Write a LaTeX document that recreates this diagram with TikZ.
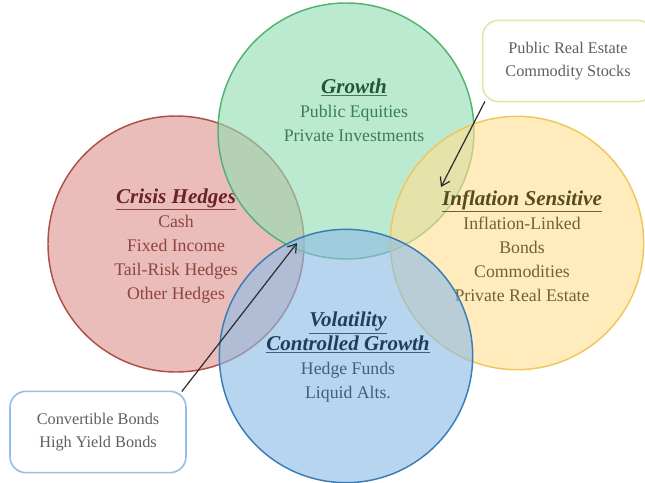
\documentclass[tikz,border=0pt]{standalone}
\usepackage{fontspec}
\setmainfont{Liberation Serif}
\usetikzlibrary{arrows.meta}
\definecolor{gfill}{RGB}{147,222,180}
\definecolor{rfill}{RGB}{224,150,144}
\definecolor{yfill}{RGB}{255,223,147}
\definecolor{bfill}{RGB}{142,188,230}
\definecolor{gline}{RGB}{80,180,110}
\definecolor{rline}{RGB}{175,80,70}
\definecolor{yline}{RGB}{240,200,90}
\definecolor{bline}{RGB}{55,125,185}
\definecolor{gtitle}{RGB}{35,85,55}
\definecolor{gtext}{RGB}{60,125,85}
\definecolor{rtitle}{RGB}{105,35,35}
\definecolor{rtext}{RGB}{140,70,62}
\definecolor{ytitle}{RGB}{85,75,30}
\definecolor{ytext}{RGB}{110,100,50}
\definecolor{btitle}{RGB}{35,60,90}
\definecolor{btext}{RGB}{70,92,120}
\definecolor{boxg}{RGB}{215,235,165}
\definecolor{boxb}{RGB}{150,190,230}
\definecolor{boxtext}{RGB}{95,95,95}
\definecolor{arrowc}{RGB}{45,45,45}
\tikzset{
  venn/.style={circle, minimum size=#1, inner sep=0pt, line width=1.1pt, fill opacity=0.62},
  grouptext/.style={align=center, font=\fontsize{13.3}{18}\selectfont, inner sep=0pt},
  callout/.style={draw, rounded corners=12pt, line width=1.2pt, fill=white, align=center,
     text=boxtext, font=\fontsize{12.2}{17}\selectfont},
  pointer/.style={draw=arrowc, line width=0.9pt, -{Straight Barb[length=6pt,width=8pt]}}
}
\newcommand{\vtitle}[1]{{\fontsize{15.8}{18}\selectfont\bfseries\itshape\underline{#1}}}
\begin{document}
\begin{tikzpicture}[x=0.75pt,y=-0.75pt]
\useasboundingbox (0,0) rectangle (645,482);
\clip (0,0) rectangle (645,482);
\fill[white] (0,0) rectangle (645,482);
% crisis
\node[venn=192pt, draw=rline, fill=rfill] (crisis) at (176,244) {};
\node[grouptext, text=rtext] (crisistxt) at (176,246) {\vtitle{\color{rtitle}Crisis Hedges}\\Cash\\Fixed Income\\Tail-Risk Hedges\\Other Hedges};
% growth
\node[venn=192pt, draw=gline, fill=gfill] (growth) at (346,131) {};
\node[grouptext, text=gtext] (growthtxt) at (354,110) {\vtitle{\color{gtitle}Growth}\\Public Equities\\Private Investments};
% inflation
\node[venn=190pt, draw=yline, fill=yfill] (infl) at (517,243) {};
\node[grouptext, text=ytext] (infltxt) at (522,246) {\vtitle{\color{ytitle}Inflation Sensitive}\\Inflation-Linked\\Bonds\\Commodities\\Private Real Estate};
% volatility
\node[venn=190pt, draw=bline, fill=bfill] (vol) at (346,356) {};
\node[grouptext, text=btext] (voltxt) at (348,357) {\vtitle{\color{btitle}Volatility}\\\vtitle{\color{btitle}Controlled Growth}\\Hedge Funds\\Liquid Alts.};
% callouts
\node[callout, draw=boxg, minimum width=128pt, minimum height=61pt] (pbox) at (568,61) {Public Real Estate\\Commodity Stocks};
\node[callout, draw=boxb, minimum width=132pt, minimum height=61pt] (cbox) at (98,432) {Convertible Bonds\\High Yield Bonds};
\coordinate (tipA) at (441,187);
\coordinate (tipB) at (297,243);
\draw[pointer] ([shift={(3,-1)}]pbox.south west) -- (tipA);
\draw[pointer] ([shift={(-5,1)}]cbox.north east) -- (tipB);
\end{tikzpicture}
\end{document}
